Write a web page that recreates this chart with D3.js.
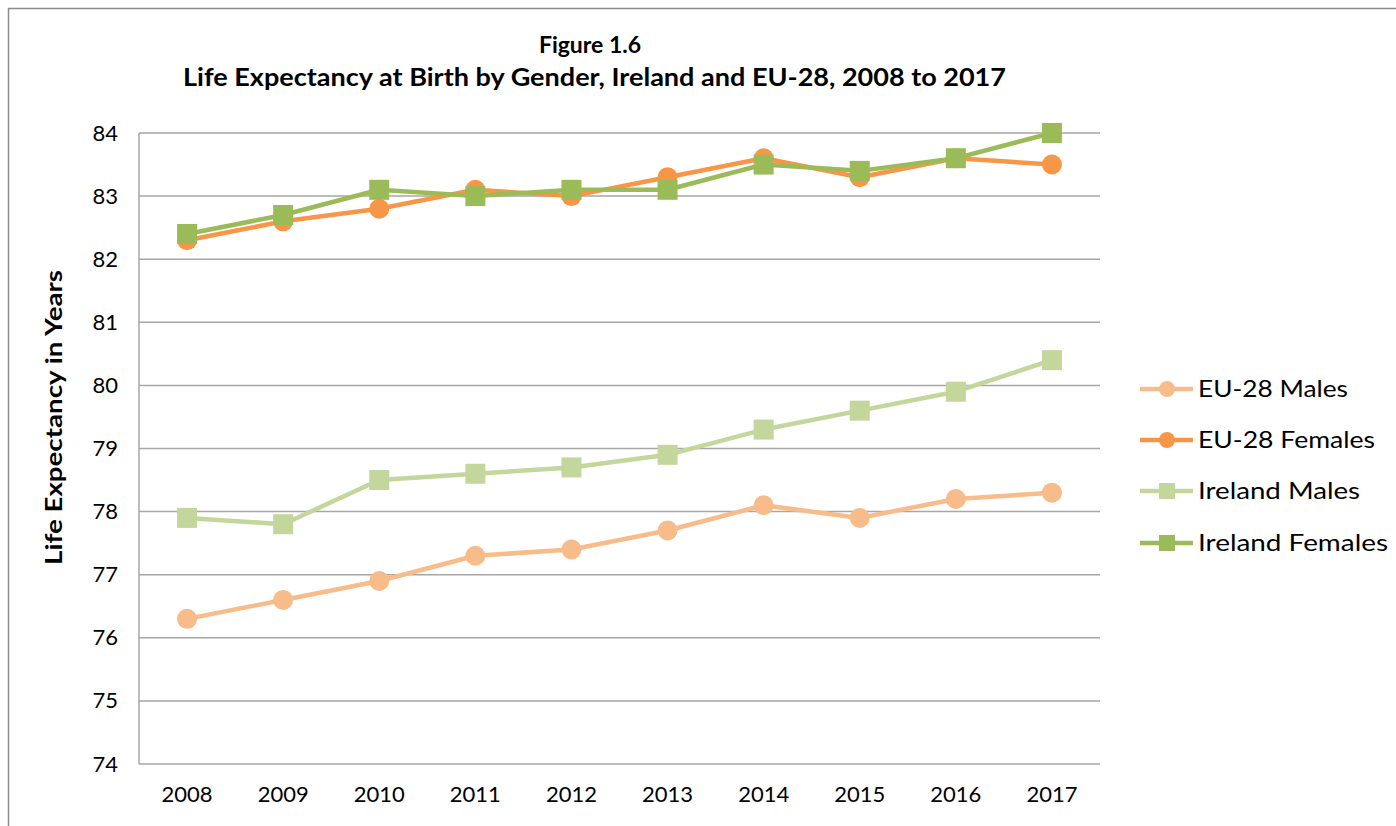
<!DOCTYPE html>
<html><head><meta charset="utf-8">
<script src="https://cdn.jsdelivr.net/npm/d3@7"></script>
<style>body{margin:0;background:#fff}svg{display:block;font-family:Lato,"Open Sans",sans-serif}</style>
</head><body>
<svg id="c" width="1396" height="826"></svg>
<script>
const years = ["2008","2009","2010","2011","2012","2013","2014","2015","2016","2017"];
const euMales = [76.3,76.6,76.9,77.3,77.4,77.7,78.1,77.9,78.2,78.3];
const euFemales = [82.3,82.6,82.8,83.1,83.0,83.3,83.6,83.3,83.6,83.5];
const ieMales = [77.9,77.8,78.5,78.6,78.7,78.9,79.3,79.6,79.9,80.4];
const ieFemales = [82.4,82.7,83.1,83.0,83.1,83.1,83.5,83.4,83.6,84.0];
const yTicks = [74,75,76,77,78,79,80,81,82,83,84];
const seriesNames = ["EU-28 Males","EU-28 Females","Ireland Males","Ireland Females"];

const series = [
  {name:seriesNames[0], values:euMales, color:"#F8BB8A", shape:"circle"},
  {name:seriesNames[1], values:euFemales, color:"#F79646", shape:"circle"},
  {name:seriesNames[2], values:ieMales, color:"#C3D69B", shape:"square"},
  {name:seriesNames[3], values:ieFemales, color:"#9BBB59", shape:"square"}
];
// layout/style: legend text widths
const legendTextWidths = [150,177,162,190];

const svg = d3.select("#c");
// outer frame
svg.append("rect").attr("x",8.5).attr("y",8.5).attr("width",1400).attr("height",830)
  .attr("fill","none").attr("stroke","#8c8c8c").attr("stroke-width",1.5);

const L=139, R=1100, T=133, B=764;
const x = d3.scaleBand().domain(years).range([L,R]);
const y = d3.scaleLinear().domain([74,84]).range([B,T]);

// gridlines
svg.append("g").selectAll("line").data(yTicks).join("line")
  .attr("x1",L).attr("x2",R).attr("y1",d=>y(d)).attr("y2",d=>y(d))
  .attr("stroke","#A6A6A6").attr("stroke-width",1.5);
// left axis line
svg.append("line").attr("x1",L).attr("x2",L).attr("y1",T).attr("y2",B)
  .attr("stroke","#A6A6A6").attr("stroke-width",1.5);

// y tick labels
const yAxis = svg.append("g").attr("transform",`translate(${L},0)`)
  .call(d3.axisLeft(y).tickValues(yTicks).tickSize(0).tickPadding(21));
yAxis.select(".domain").remove();
yAxis.selectAll("text").attr("font-size",22).attr("fill","#000").attr("font-family","Lato,sans-serif");

// x tick labels
const xAxis = svg.append("g").attr("transform",`translate(0,${B})`)
  .call(d3.axisBottom(x).tickSize(0).tickPadding(22));
xAxis.select(".domain").remove();
xAxis.selectAll("text").attr("font-size",22).attr("fill","#000").attr("font-family","Lato,sans-serif");

// title
svg.append("text").attr("x",590).attr("y",53).attr("text-anchor","middle")
  .attr("font-size",23).attr("font-weight","bold").text("Figure 1.6");
svg.append("text").attr("x",594.5).attr("y",86).attr("text-anchor","middle")
  .attr("font-size",24).attr("font-weight","bold")
  .attr("textLength",823).attr("lengthAdjust","spacingAndGlyphs")
  .text("Life Expectancy at Birth by Gender, Ireland and EU-28, 2008 to 2017");

// y axis title
svg.append("text").attr("transform","translate(62,417.5) rotate(-90)")
  .attr("text-anchor","middle").attr("font-size",23).attr("font-weight","bold")
  .attr("textLength",295).attr("lengthAdjust","spacingAndGlyphs")
  .text("Life Expectancy in Years");

const cx = d=>x(d)+x.bandwidth()/2;
const line = d3.line().x((d,i)=>cx(years[i])).y(d=>y(d));

function marker(g, shape, color, px, py){
  if(shape==="circle"){
    g.append("circle").attr("cx",px).attr("cy",py).attr("r",10).attr("fill",color);
  } else {
    g.append("rect").attr("x",px-10).attr("y",py-10).attr("width",20).attr("height",20).attr("fill",color);
  }
}

series.forEach(s=>{
  const g = svg.append("g");
  g.append("path").datum(s.values).attr("d",line).attr("fill","none")
    .attr("stroke",s.color).attr("stroke-width",4.5).attr("stroke-linejoin","round");
  s.values.forEach((v,i)=>marker(g,s.shape,s.color,cx(years[i]),y(v)));
});

// legend
const legY = [389,440,491,543];
series.forEach((s,i)=>{
  const g = svg.append("g");
  g.append("line").attr("x1",1140).attr("x2",1193).attr("y1",legY[i]).attr("y2",legY[i])
    .attr("stroke",s.color).attr("stroke-width",4.5);
  if(s.shape==="circle") g.append("circle").attr("cx",1167).attr("cy",legY[i]).attr("r",8).attr("fill",s.color);
  else g.append("rect").attr("x",1159).attr("y",legY[i]-8).attr("width",16).attr("height",16).attr("fill",s.color);
  g.append("text").attr("x",1198).attr("y",legY[i]).attr("dy","0.35em")
    .attr("font-size",23).attr("textLength",legendTextWidths[i]).attr("lengthAdjust","spacingAndGlyphs")
    .text(s.name);
});
</script>
</body></html>
